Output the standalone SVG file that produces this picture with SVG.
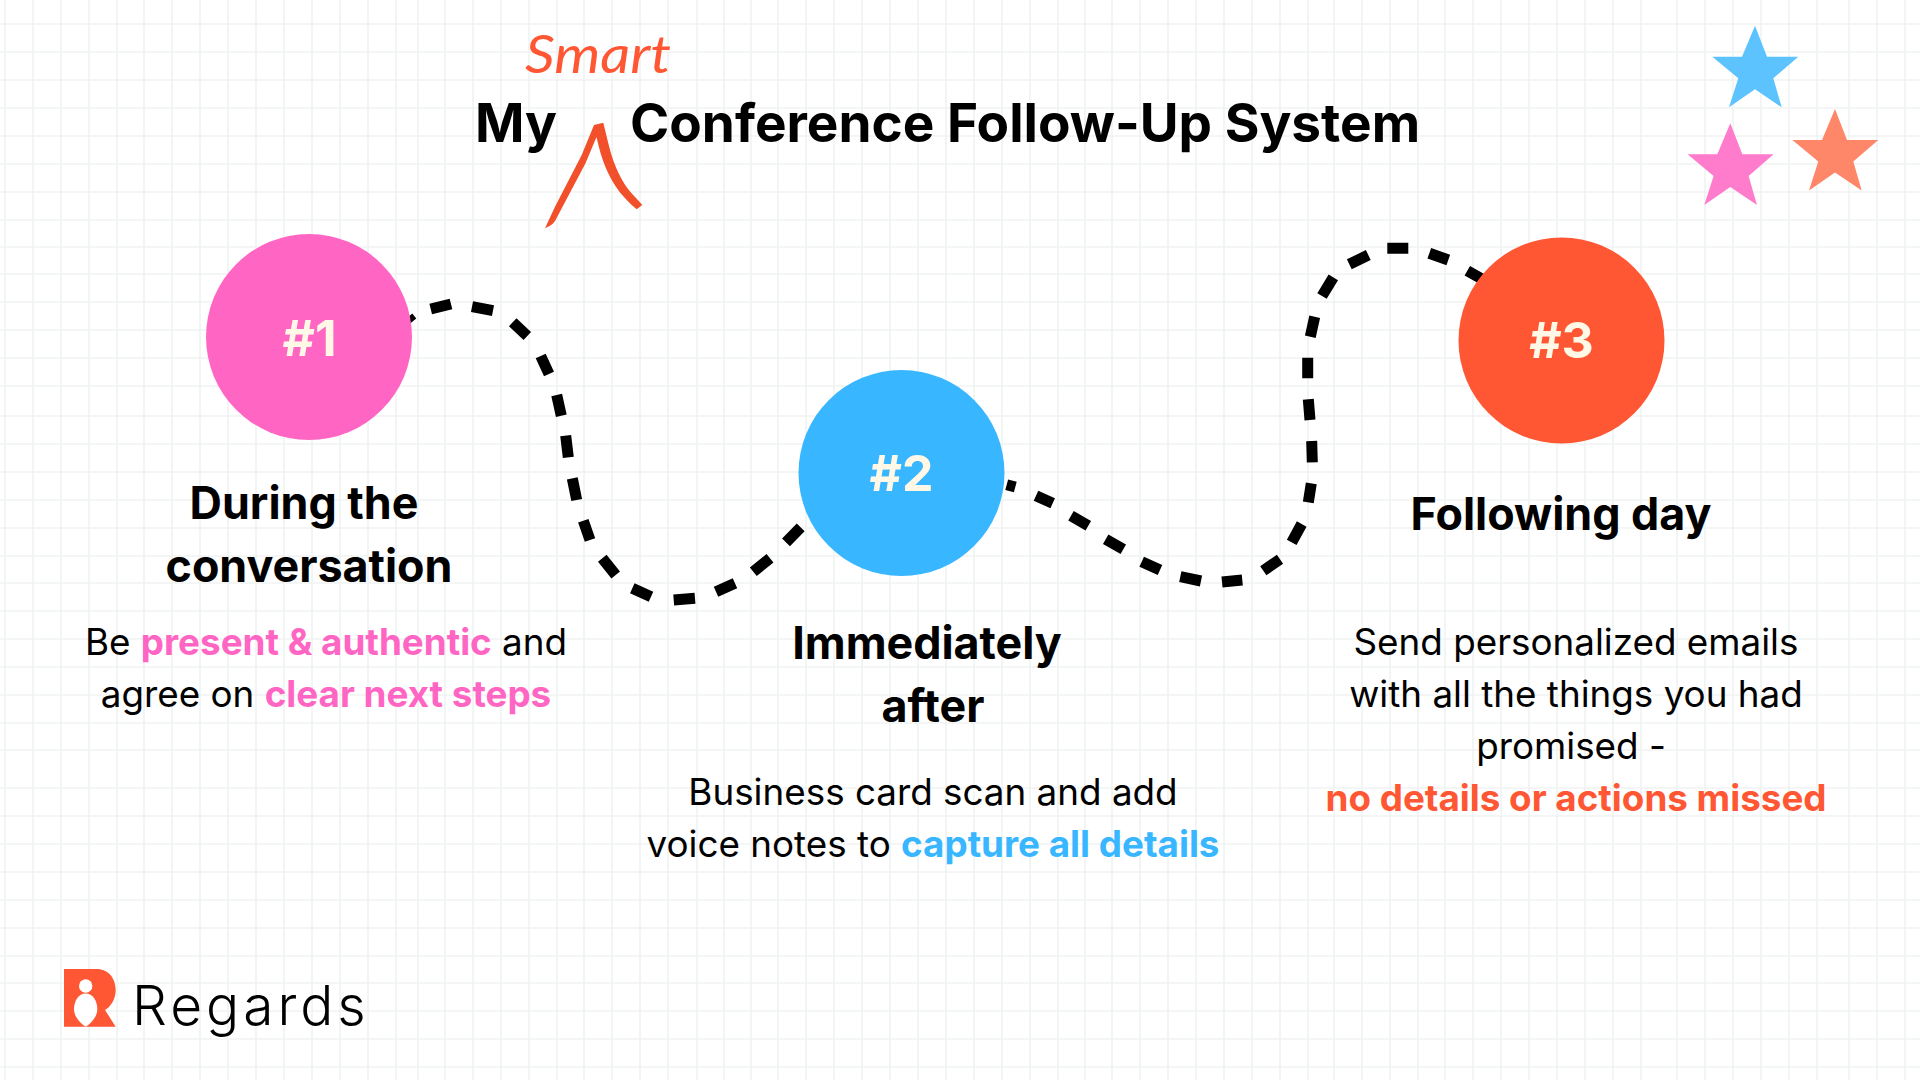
<svg xmlns="http://www.w3.org/2000/svg" xmlns:xlink="http://www.w3.org/1999/xlink" width="1920" height="1080" viewBox="0 0 1920 1080">
<style>
text{font-family:Inter,"Liberation Sans",sans-serif;fill:#000}
.title{font-size:53.1px;font-weight:700}
.num{font-size:50px;font-weight:700;fill:#fff8e6;text-anchor:middle}
.head{font-size:44.8px;font-weight:700;text-anchor:middle}
.body{font-size:36.8px;font-weight:400;text-anchor:middle}
.b{font-weight:700}
.pk{fill:#ff66c4}.bl{fill:#38b6ff}.rd{fill:#ff5733}
</style>
<defs>
<polygon id="star" points="1755,25.7 1767,56.7 1798.3,56.7 1773.3,78.3 1781.7,107.3 1755,89.3 1729,107.3 1738.3,78.3 1712.3,56.7 1742,56.7"/>
</defs>
<rect width="1920" height="1080" fill="#fff"/>
<path id="grid" fill="none" stroke="#eff4f2" stroke-width="1.7" d="M5 0V1080M33 0V1080M61 0V1080M89 0V1080M117 0V1080M144 0V1080M172 0V1080M200 0V1080M228 0V1080M256 0V1080M284 0V1080M312 0V1080M340 0V1080M368 0V1080M396 0V1080M418 0V1080M445 0V1080M473 0V1080M501 0V1080M529 0V1080M557 0V1080M584 0V1080M612 0V1080M640 0V1080M668 0V1080M697 0V1080M724 0V1080M751 0V1080M778 0V1080M806 0V1080M834 0V1080M862 0V1080M890 0V1080M918 0V1080M946 0V1080M974 0V1080M1002 0V1080M1030 0V1080M1058 0V1080M1085 0V1080M1112 0V1080M1140 0V1080M1168 0V1080M1196 0V1080M1224 0V1080M1252 0V1080M1280 0V1080M1308 0V1080M1334 0V1080M1362 0V1080M1390 0V1080M1418 0V1080M1445 0V1080M1473 0V1080M1501 0V1080M1529 0V1080M1557 0V1080M1585 0V1080M1613 0V1080M1641 0V1080M1677 0V1080M1705 0V1080M1733 0V1080M1761 0V1080M1789 0V1080M1817 0V1080M1849 0V1080M1877 0V1080M1905 0V1080M0 24H1920M0 52H1920M0 80H1920M0 108H1920M0 136H1920M0 164H1920M0 192H1920M0 220H1920M0 247H1920M0 274H1920M0 302H1920M0 330H1920M0 358H1920M0 386H1920M0 416H1920M0 444H1920M0 472H1920M0 500H1920M0 528H1920M0 556H1920M0 583H1920M0 611H1920M0 639H1920M0 667H1920M0 695H1920M0 723H1920M0 750H1920M0 788H1920M0 816H1920M0 844H1920M0 872H1920M0 900H1920M0 928H1920M0 956H1920M0 983H1920M0 1011H1920M0 1039H1920M0 1067H1920"/>

<g id="connectors" fill="none" stroke="#000" stroke-width="11">
<path id="connector-1-2" d="M408 317L412 322M430.7 309L451 304M472 306.7L493 310.7M512.7 322.3L527.3 336M540.7 356L549 374M556.7 395L561.3 415.7M565.7 435.7L568.3 457.3M572.3 478.3L576.7 500M583.3 520.7L590 540M602.3 558.3L615.7 575M632.3 588.3L651 596.7M673.7 600L695 598.3M716 591.7L735 583.3M753.3 571.7L770 558.3M786 542.3L800.7 527.3"/>
<path id="connector-2-3" d="M1006.7 484.7L1015.3 487M1036 495.7L1052.7 503.3M1071 515.7L1088.3 525.7M1105.7 539.3L1123.3 549.3M1141.7 561.7L1160 570M1180.3 576.7L1201 581M1222 582L1242.3 580M1263.3 570.7L1280 559.3M1291.7 542.3L1301.7 524M1308.3 502.3L1311.3 483.3M1312.3 462.3L1311.7 441M1310 420L1308.3 399.3M1307.7 378.3L1307.7 357.7M1310.3 336.7L1314.7 316.7M1322 296L1333.3 277.3M1349.3 264.3L1368.3 255M1387.3 248.3L1408.3 248.3M1429.3 253.3L1448.3 260M1467.3 270.7L1482 279"/>
</g>

<g id="title">
<text class="title" x="475" y="142">My</text>
<text class="title" x="630" y="142">Conference Follow-Up System</text>
<text id="smart" x="525" y="73" font-size="52" font-style="italic" style="font-family:Lato,sans-serif;fill:#ff5733" textLength="146" lengthAdjust="spacingAndGlyphs">Smart</text>
<path id="caret" fill="#f1502a" d="M545 228.3L555 206.7L581.7 155L594 125L603.3 122.7L607.5 140C612 160 619 177 628 189C632 194 638 200 642.3 205L636.7 209.3C630 204 625 198 620 192.5C608 176.7 601.5 160 596.5 137L585.5 163.3L556.5 218.3Q554 225 545 228.3Z"/>
</g>

<g id="stars">
<use href="#star" fill="#5cc3ff"/>
<use href="#star" fill="#ff7bcc" transform="translate(-24.7 97.6)"/>
<use href="#star" fill="#ff8769" transform="translate(80 83.3)"/>
</g>

<g id="node-1">
<circle cx="309" cy="337" r="103" class="pk"/>
<text class="num" x="309.5" y="356">#1</text>
<text class="head" x="304" y="519">During the</text>
<text class="head" x="309" y="582">conversation</text>
<text class="body" x="326" y="655">Be <tspan class="b pk">present &amp; authentic</tspan> and</text>
<text class="body" x="326" y="707">agree on <tspan class="b pk">clear next steps</tspan></text>
</g>
<g id="node-2">
<circle cx="901.5" cy="473" r="103" class="bl"/>
<text class="num" x="901.5" y="491">#2</text>
<text class="head" x="927" y="659">Immediately</text>
<text class="head" x="933" y="722">after</text>
<text class="body" x="933" y="805">Business card scan and add</text>
<text class="body" x="933" y="857">voice notes to <tspan class="b bl">capture all details</tspan></text>
</g>
<g id="node-3">
<circle cx="1561.5" cy="340.5" r="103" class="rd"/>
<text class="num" x="1561.5" y="358">#3</text>
<text class="head" x="1561" y="530">Following day</text>
<text class="body" x="1576" y="655">Send personalized emails</text>
<text class="body" x="1576" y="707">with all the things you had</text>
<text class="body" x="1571" y="759">promised -</text>
<text class="body" x="1576" y="811"><tspan class="b rd">no details or actions missed</tspan></text>
</g>

<g id="logo">
<path class="rd" d="M64 969H96.7C108.3 969 115.7 978.3 115.7 990C115.7 1000 110 1007.3 105 1010L115.7 1026.7H64Z"/>
<circle cx="85.7" cy="986" r="6.7" fill="#fff"/>
<path fill="#fff" d="M85.7 993.5C92.7 993.5 97.3 1001 97.3 1009C97.3 1017 91 1023.5 85.7 1026.7C80.4 1023.5 74 1017 74 1009C74 1001 78.7 993.5 85.7 993.5Z"/>
<text x="132" y="1025" font-size="55" letter-spacing="4" style="font-weight:300">Regards</text>
</g>
</svg>
